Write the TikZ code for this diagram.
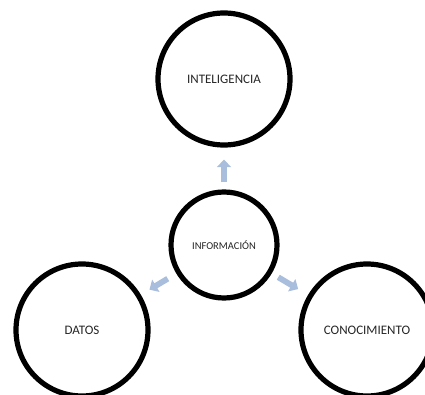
\documentclass[tikz,border=0pt]{standalone}
\usepackage{fontspec}
\setmainfont{Carlito}
\usetikzlibrary{arrows.meta, positioning, calc}
\definecolor{ringblack}{HTML}{000000}
\definecolor{arrblue}{HTML}{A9BEDC}
\definecolor{txtgray}{HTML}{262626}

\begin{document}
\begin{tikzpicture}[
  x=1pt, y=1pt,
  ring/.style 2 args={
    circle, draw=ringblack, line width=5.2pt, fill=white,
    minimum size=#1, inner sep=0pt, font=#2, text=txtgray
  },
  blockarr/.style 2 args={
    -{Triangle[length=7.5pt, width=14pt]}, line width=5.8pt, arrblue,
    shorten <=#1, shorten >=#2
  },
]

% Canvas
\useasboundingbox (0,0) rectangle (425,394);
\clip (0,0) rectangle (425,394);

% =============================================
% Circles
% =============================================
\node[ring={132pt}{\fontsize{13}{15}\selectfont}] (intel) at (224,315)
  {INTELIGENCIA};

\node[ring={106pt}{\fontsize{10.5}{12}\selectfont}] (info) at (224,149)
  {INFORMACIÓN};

\node[ring={132pt}{\fontsize{13}{15}\selectfont}] (datos) at (82,64)
  {DATOS};

\node[ring={132pt}{\fontsize{13}{15}\selectfont}] (conoc) at (367,64)
  {CONOCIMIENTO};

% =============================================
% Arrows
% =============================================
\draw[blockarr={7pt}{12pt}] (info) -- (intel);
\draw[blockarr={10pt}{10pt}] (info) -- (datos);
\draw[blockarr={7.5pt}{11.5pt}] (info) -- (conoc);

\end{tikzpicture}
\end{document}
